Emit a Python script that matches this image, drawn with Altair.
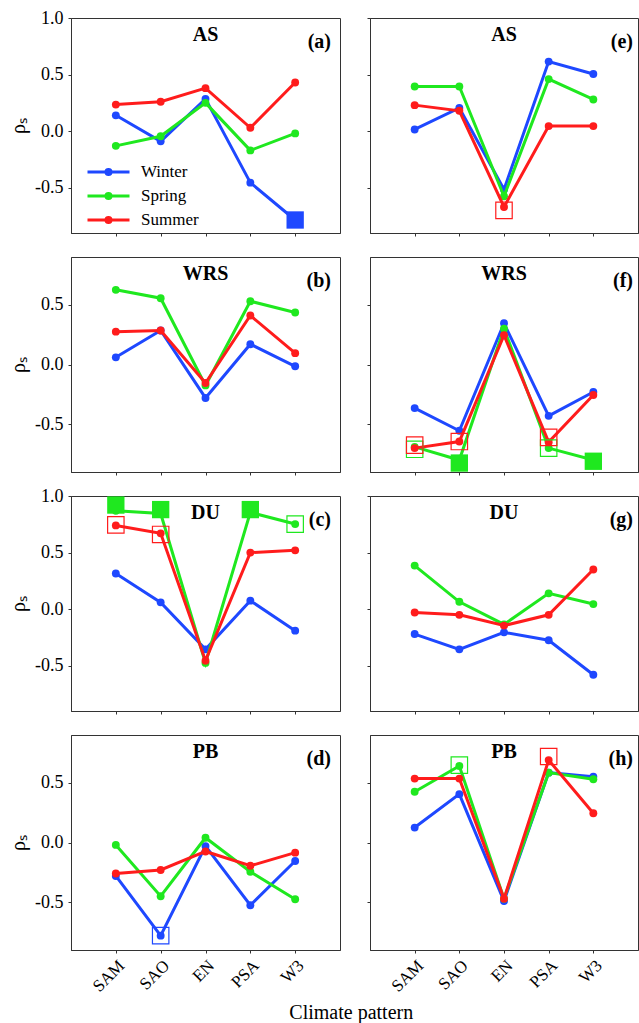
import altair as alt
import pandas as pd

FONT = "Liberation Serif"

categories = ["SAM", "SAO", "EN", "PSA", "W3"]
seasons = ["Winter", "Spring", "Summer"]
season_colors = ["#1e48ff", "#1fe81f", "#ff1c1c"]

panel_ids = ["a", "b", "c", "d", "e", "f", "g", "h"]
panel_sites = ["AS", "WRS", "DU", "PB", "AS", "WRS", "DU", "PB"]

# Spearman rho per panel / season (order: SAM, SAO, EN, PSA, W3)
rho_a_winter = [0.14, -0.09, 0.285, -0.455, -0.785]
rho_a_spring = [-0.13, -0.045, 0.25, -0.17, -0.02]
rho_a_summer = [0.235, 0.26, 0.38, 0.03, 0.43]

rho_b_winter = [0.06, 0.285, -0.28, 0.17, -0.015]
rho_b_spring = [0.625, 0.555, -0.175, 0.53, 0.435]
rho_b_summer = [0.275, 0.285, -0.155, 0.41, 0.095]

rho_c_winter = [0.315, 0.06, -0.355, 0.075, -0.19]
rho_c_spring = [0.87, 0.845, -0.475, 0.855, 0.752]
rho_c_summer = [0.74, 0.67, -0.455, 0.50, 0.52]

rho_d_winter = [-0.28, -0.78, -0.03, -0.525, -0.155]
rho_d_spring = [-0.02, -0.45, 0.04, -0.245, -0.475]
rho_d_summer = [-0.26, -0.23, -0.075, -0.195, -0.085]

rho_e_winter = [0.015, 0.205, -0.515, 0.615, 0.505]
rho_e_spring = [0.395, 0.395, -0.575, 0.46, 0.28]
rho_e_summer = [0.23, 0.18, -0.67, 0.045, 0.045]

rho_f_winter = [-0.365, -0.555, 0.345, -0.43, -0.23]
rho_f_spring = [-0.69, -0.80, 0.30, -0.70, -0.80]
rho_f_summer = [-0.70, -0.645, 0.245, -0.65, -0.255]

rho_g_winter = [-0.22, -0.355, -0.205, -0.275, -0.58]
rho_g_spring = [0.385, 0.065, -0.135, 0.14, 0.045]
rho_g_summer = [-0.03, -0.05, -0.145, -0.05, 0.35]

rho_h_winter = [0.125, 0.405, -0.49, 0.585, 0.55]
rho_h_spring = [0.425, 0.64, -0.47, 0.585, 0.53]
rho_h_summer = [0.535, 0.535, -0.47, 0.69, 0.245]

# filled squares (significant markers)
filled_panel = ["a", "f", "f", "c", "c", "c"]
filled_season = ["Winter", "Spring", "Spring", "Spring", "Spring", "Spring"]
filled_category = ["W3", "SAO", "W3", "SAM", "SAO", "PSA"]
filled_value = [-0.785, -0.825, -0.81, 0.92, 0.88, 0.88]

# open squares
open_panel = ["e", "f", "f", "f", "f", "f", "c", "c", "c", "d", "h", "h"]
open_season = ["Summer", "Spring", "Summer", "Summer", "Spring", "Summer",
               "Summer", "Summer", "Spring", "Winter", "Spring", "Summer"]
open_category = ["EN", "SAM", "SAM", "SAO", "PSA", "PSA",
                 "SAM", "SAO", "W3", "SAO", "SAO", "PSA"]
open_value = [-0.70, -0.71, -0.675, -0.645, -0.70, -0.61,
              0.745, 0.66, 0.752, -0.78, 0.648, 0.72]

rho = {
    "a": [rho_a_winter, rho_a_spring, rho_a_summer],
    "b": [rho_b_winter, rho_b_spring, rho_b_summer],
    "c": [rho_c_winter, rho_c_spring, rho_c_summer],
    "d": [rho_d_winter, rho_d_spring, rho_d_summer],
    "e": [rho_e_winter, rho_e_spring, rho_e_summer],
    "f": [rho_f_winter, rho_f_spring, rho_f_summer],
    "g": [rho_g_winter, rho_g_spring, rho_g_summer],
    "h": [rho_h_winter, rho_h_spring, rho_h_summer],
}

row_domains = [[-0.9, 1.0], [-0.9, 0.9], [-0.9, 1.0], [-0.9, 0.9]]
row_ticks = [[-0.5, 0.0, 0.5, 1.0], [-0.5, 0.0, 0.5], [-0.5, 0.0, 0.5, 1.0], [-0.5, 0.0, 0.5]]

W_L, W_R, H = 269, 268, 215
color_of = dict(zip(seasons, season_colors))
color_scale = alt.Scale(domain=seasons, range=season_colors)

SYMBOL = "M-1,0L1,0M0.12,0A0.12,0.12,0,1,1,-0.12,0A0.12,0.12,0,1,1,0.12,0Z"
legend_def = alt.Legend(
    title=None, orient="none", legendX=15, legendY=146, padding=0,
    symbolType=SYMBOL, symbolSize=1764, symbolStrokeWidth=3,
    clipHeight=16, rowPadding=7, labelOffset=10,
    labelFont=FONT, labelFontSize=17, labelColor="black",
)

Y_LABEL = "datum.value < 0 ? '-' + format(-datum.value, '.1f') : format(datum.value, '.1f')"


def make_panel(pid, site, col, row):
    width = W_L if col == 0 else W_R
    left = col == 0
    bottom = row == 3
    vals = rho[pid]
    df = pd.DataFrame({
        "Pattern": categories * 3,
        "Season": [s for s in seasons for _ in categories],
        "rho": vals[0] + vals[1] + vals[2],
    })
    x = alt.X("Pattern:N", sort=categories,
              scale=alt.Scale(type="point", domain=categories, padding=1),
              axis=alt.Axis(title=None, labels=bottom, labelAngle=-45, labelFontSize=17,
                            tickSize=3, labelPadding=4))
    yaxis_kwargs = dict(values=row_ticks[row], labels=left, labelExpr=Y_LABEL,
                        tickSize=3, labelPadding=5, titlePadding=6)
    yaxis_kwargs["title"] = "ρₛ" if left else None
    y = alt.Y("rho:Q", scale=alt.Scale(domain=row_domains[row], nice=False, zero=False),
              axis=alt.Axis(**yaxis_kwargs))
    leg = legend_def if pid == "a" else None

    base = alt.Chart(df)
    layers = []
    for s in seasons:
        sub = base.transform_filter(alt.datum.Season == s)
        layers.append(sub.mark_line(strokeWidth=3).encode(
            x=x, y=y, stroke=alt.Stroke("Season:N", scale=color_scale, legend=leg)))
        layers.append(sub.mark_circle(size=62, opacity=1).encode(
            x=x, y=y, fill=alt.Fill("Season:N", scale=color_scale, legend=leg)))

    fidx = [i for i, p in enumerate(filled_panel) if p == pid]
    if fidx:
        fdf = pd.DataFrame({
            "Pattern": [filled_category[i] for i in fidx],
            "rho": [filled_value[i] for i in fidx],
            "hex": [color_of[filled_season[i]] for i in fidx],
        })
        layers.append(alt.Chart(fdf).mark_point(shape="square", filled=True, size=300, opacity=1).encode(
            x=x, y=y, fill=alt.Fill("hex:N", scale=None)))
    oidx = [i for i, p in enumerate(open_panel) if p == pid]
    if oidx:
        odf = pd.DataFrame({
            "Pattern": [open_category[i] for i in oidx],
            "rho": [open_value[i] for i in oidx],
            "hex": [color_of[open_season[i]] for i in oidx],
        })
        layers.append(alt.Chart(odf).mark_point(shape="square", filled=False, size=270,
                                                strokeWidth=1.2, opacity=1).encode(
            x=x, y=y, stroke=alt.Stroke("hex:N", scale=None)))

    tdf = pd.DataFrame({"site": [site], "letter": ["(" + pid + ")"]})
    layers.append(alt.Chart(tdf).mark_text(font=FONT, fontSize=20, fontWeight="bold",
                                           align="center", baseline="middle", color="black").encode(
        x=alt.value(width / 2), y=alt.value(17), text="site:N"))
    layers.append(alt.Chart(tdf).mark_text(font=FONT, fontSize=20, fontWeight="bold",
                                           align="right", baseline="middle", color="black").encode(
        x=alt.value(width - (9 if left else 5)), y=alt.value(24), text="letter:N"))

    return alt.layer(*layers).properties(width=width, height=H)


panels = []
for r in range(4):
    panels.append(make_panel(panel_ids[r], panel_sites[r], 0, r))
    panels.append(make_panel(panel_ids[r + 4], panel_sites[r + 4], 1, r))

chart = alt.concat(
    *panels, columns=2, spacing=alt.RowColnumber(row=24, column=30), bounds="flush",
    title=alt.TitleParams(text="Climate pattern", orient="bottom", anchor="middle",
                          font=FONT, fontSize=20, fontWeight="normal", color="black",
                          offset=8, dx=28),
).resolve_legend(stroke="independent", fill="independent").properties(
    padding={"left": 8, "top": 8, "right": 0, "bottom": 0}
).configure_view(stroke="#333333", strokeWidth=1).configure_axis(
    labelFont=FONT, titleFont=FONT, labelFontSize=18, titleFontSize=20,
    titleFontWeight="normal", labelColor="black", titleColor="black",
    domainColor="#333333", tickColor="#333333", grid=False,
)

chart.save("out.html", embed_options={"renderer": "svg", "actions": False})
